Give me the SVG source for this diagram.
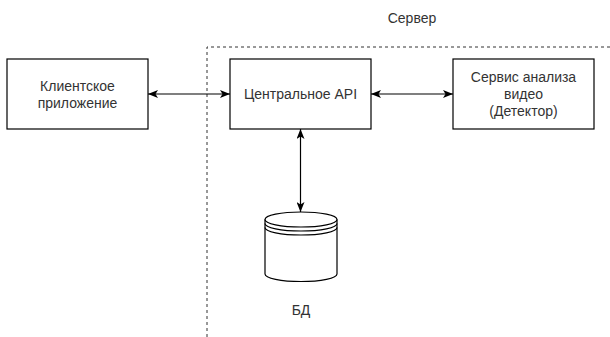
<svg xmlns="http://www.w3.org/2000/svg" width="610" height="337" viewBox="0 0 610 337">
<style>
.box{fill:#fff;stroke:#000;stroke-width:1.2}
.lbl{font-family:"Liberation Sans",Arial,sans-serif;font-size:14px;fill:#333;text-anchor:middle}
.conn{stroke:#000;stroke-width:1.2;fill:none}
.dash{stroke:#333;stroke-width:1;stroke-dasharray:3 3;fill:none}
.db{fill:#fff;stroke:#000;stroke-width:1.2}
</style>
<defs>
<marker id="arr" markerUnits="userSpaceOnUse" viewBox="0 0 10 8" refX="10" refY="4" markerWidth="10" markerHeight="8" orient="auto-start-reverse">
<path d="M0,0 L10,4 L0,8 L2.5,4 Z" fill="#000"/>
</marker>
</defs>
<g id="server-boundary">
<path class="dash" d="M207,337 L207,47 L610,47"/>
<text class="lbl" x="412" y="23">Сервер</text>
</g>
<g id="client">
<rect class="box" x="7" y="59" width="141" height="70"/>
<text class="lbl" x="77.5" y="91">Клиентское</text>
<text class="lbl" x="77.5" y="108">приложение</text>
</g>
<g id="api">
<rect class="box" x="230" y="59" width="141" height="70"/>
<text class="lbl" x="300.5" y="99">Центральное API</text>
</g>
<g id="detector">
<rect class="box" x="453" y="59" width="141" height="70"/>
<text class="lbl" x="523.5" y="82">Сервис анализа</text>
<text class="lbl" x="523.5" y="99">видео</text>
<text class="lbl" x="523.5" y="116">(Детектор)</text>
</g>
<g id="db">
<path class="db" d="M265,219.5 A36,7.5 0 0 1 337,219.5 L337,274 A36,7.5 0 0 1 265,274 Z"/>
<path class="conn" d="M265,219.5 A36,7.5 0 0 0 337,219.5 M265,223.5 A36,7.5 0 0 0 337,223.5 M265,227.5 A36,7.5 0 0 0 337,227.5"/>
<text class="lbl" x="301" y="315">БД</text>
</g>
<g id="connectors">
<line class="conn" x1="148" y1="94" x2="230" y2="94" marker-start="url(#arr)" marker-end="url(#arr)"/>
<line class="conn" x1="371" y1="94" x2="453" y2="94" marker-start="url(#arr)" marker-end="url(#arr)"/>
<line class="conn" x1="300.5" y1="129" x2="300.5" y2="212" marker-start="url(#arr)" marker-end="url(#arr)"/>
</g>
</svg>
